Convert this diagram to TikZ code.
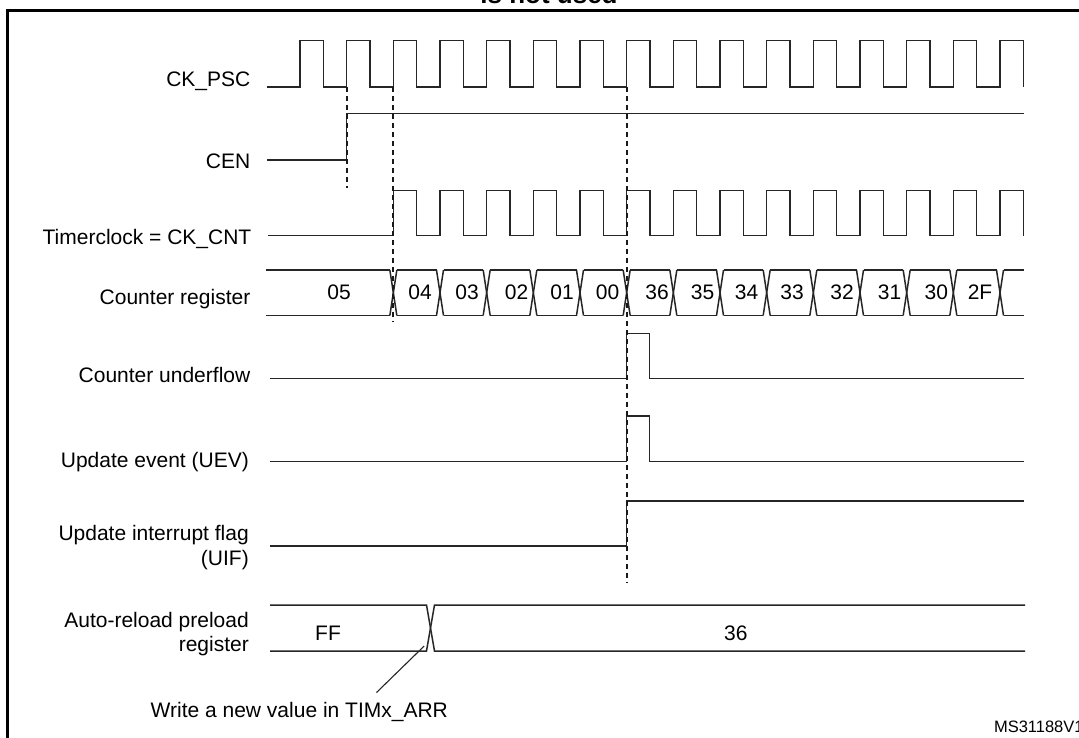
\documentclass[tikz,border=0pt]{standalone}
\usepackage{fontspec}
\setmainfont{Liberation Sans}
\begin{document}
\begin{tikzpicture}[x=1pt,y=-1pt,
  sig/.style={line width=1.5pt, draw=black!85, line join=miter, line cap=butt},
  thin/.style={line width=1.1pt, draw=black!85},
  guide/.style={line width=1.8pt, draw=black!90, dash pattern=on 5.5pt off 3.5pt},
  lbl/.style={anchor=base east, inner sep=0pt, font=\fontsize{21}{25}\selectfont},
  val/.style={anchor=base, inner sep=0pt, font=\fontsize{21}{25}\selectfont}]
\useasboundingbox (0,0) rectangle (1079,737);
\clip (0,0) rectangle (1079,737);
\fill[white] (0,0) rectangle (1079,737);
% clipped caption remnant
\node[anchor=base, inner sep=0pt, font=\fontsize{26}{30}\selectfont\bfseries] (cap) at (549,3.5) {is not used};
% frame
\draw[line width=2.6pt] (7.5,740) -- (7.5,10.3) -- (1085,10.3);

% labels
\node[lbl] (lpsc) at (250.5,86) {CK\_PSC};
\node[lbl] (lcen) at (250.5,168) {CEN};
\node[lbl] (ltck) at (251.5,244) {Timerclock = CK\_CNT};
\node[lbl] (lcnt) at (250.5,304) {Counter register};
\node[lbl] (lunf) at (250.5,382.7) {Counter underflow};
\node[lbl] (luev) at (249,467) {Update event (UEV)};
\node[lbl] (luif1) at (249,540) {Update interrupt flag};
\node[lbl] (luif2) at (249,565) {(UIF)};
\node[lbl] (larr1) at (249,627) {Auto-reload preload};
\node[lbl] (larr2) at (249,651) {register};

% CK_PSC
\draw[sig] (267,86.8) \foreach \k in {0,...,15}{
  -- ({300+46.667*\k},86.8) -- ({300+46.667*\k},40.3)
  -- ({323.3+46.667*\k},40.3) -- ({323.3+46.667*\k},86.8)};
% CEN
\draw[sig] (267,159.8) -- (346.7,159.8) -- (346.7,113.6) -- (1024,113.6);
% Timer clock
\draw[sig] (268,235.7) \foreach \k in {2,...,15}{
  -- ({300+46.667*\k},235.7) -- ({300+46.667*\k},190.7)
  -- ({323.3+46.667*\k},190.7) -- ({323.3+46.667*\k},235.7)};

% Counter register
\draw[sig] (266,270) -- (389.8,270);
\draw[sig] (266,315.5) -- (389.8,315.5);
\foreach \k in {2,...,15}{
  \pgfmathsetmacro{\cc}{300+46.667*\k}
  \draw[sig] ({\cc-3.5},270) -- ({\cc+3.5},315.5);
  \draw[sig] ({\cc-3.5},315.5) -- ({\cc+3.5},270);
}
\foreach \k in {2,...,14}{
  \pgfmathsetmacro{\ca}{300+46.667*\k+3.5}
  \pgfmathsetmacro{\cb}{300+46.667*(\k+1)-3.5}
  \draw[sig] (\ca,270) -- (\cb,270);
  \draw[sig] (\ca,315.5) -- (\cb,315.5);
}
\draw[sig] (1003.5,270) -- (1024,270);
\draw[sig] (1003.5,315.5) -- (1024,315.5);
\foreach \t/\xx [count=\i] in {05/339,04/420,03/467,02/516.5,01/562,00/607.5,36/657,35/702.5,34/746.5,33/792,32/842,31/889.5,30/936.3,2F/980}{
  \node[val] (v\i) at (\xx,299.5) {\t};
}

% Counter underflow
\draw[sig] (270,378.5) -- (626.7,378.5) -- (626.7,333.3) -- (649.3,333.3) -- (649.3,378.5) -- (1024,378.5);
% UEV
\draw[sig] (270,461.5) -- (626.7,461.5) -- (626.7,416) -- (649.3,416) -- (649.3,461.5) -- (1024,461.5);
% UIF
\draw[sig] (270,546) -- (626.7,546) -- (626.7,501) -- (1024,501);

% Auto-reload preload register
\draw[sig] (270,605) -- (426.5,605) -- (434.5,651) -- (1025,651);
\draw[sig] (270,651) -- (426.5,651) -- (434.5,605) -- (1025,605);
\node[val] (vff) at (328,640) {FF};
\node[val] (v36) at (735.8,640) {36};

% dashed guides
\coordinate (g1a) at (346.7,86.8);
\coordinate (g1b) at (346.7,188);
\coordinate (g2a) at (393.3,86.8);
\coordinate (g2b) at (393.3,321);
\coordinate (g3a) at (626.7,86.8);
\coordinate (g3b) at (626.7,582);
\draw[guide] (g1a) -- (g1b);
\draw[guide] (g2a) -- (g2b);
\draw[guide] (g3a) -- (g3b);

% annotation
\node[anchor=base west, inner sep=0pt, font=\fontsize{21}{25}\selectfont] (note) at (150.5,717.7) {Write a new value in TIMx\_ARR};
\coordinate (pt) at (424.2,646);
\coordinate (pf) at (376.4,692.6);
\draw[thin] (pf) -- (pt);

\node[anchor=base west, inner sep=0pt, font=\fontsize{16.5}{20}\selectfont] (ms) at (993.8,732.3) {MS31188V1};
\end{tikzpicture}
\end{document}
